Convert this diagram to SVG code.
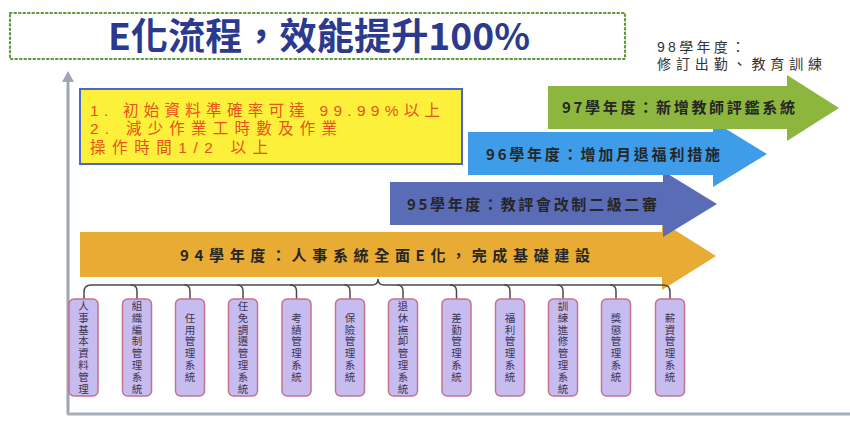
<svg xmlns="http://www.w3.org/2000/svg" width="850" height="423" viewBox="0 0 850 423">
<defs>
<style>
.cjk{font-family:"Noto Sans CJK TC","Noto Sans CJK SC",sans-serif;}
.lat{font-family:"Liberation Sans","Noto Sans CJK TC","Noto Sans CJK SC",sans-serif;}
.node rect{fill:#c7bcef;stroke:#c8708e;stroke-width:1.5;}
.node text{font-family:"Noto Sans CJK TC","Noto Sans CJK SC",sans-serif;font-size:10.5px;fill:#3e3452;text-anchor:middle;writing-mode:vertical-rl;letter-spacing:1.3px;}
.arrtxt{font-family:"Noto Sans CJK TC","Noto Sans CJK SC",sans-serif;font-size:15px;font-weight:bold;fill:#262626;}
.ytxt{font-family:"Liberation Sans","Noto Sans CJK TC","Noto Sans CJK SC",sans-serif;font-size:15.5px;fill:#e6521c;}
.conn{fill:none;stroke:#4a4a4a;stroke-width:1.5;}
</style>
</defs>
<rect width="850" height="423" fill="#ffffff"/>

<g id="title">
<rect x="10" y="13" width="615" height="46" fill="none" stroke="#5c9a3a" stroke-width="2.2" stroke-dasharray="1.5 3" stroke-linecap="round"/>
<text x="108" y="50" class="cjk" font-size="37" font-weight="bold" fill="#2b3a8e" textLength="422" lengthAdjust="spacingAndGlyphs">E化流程，效能提升100%</text>
</g>

<g id="note98">
<text x="657" y="52" class="lat" font-size="14" fill="#333" textLength="88" lengthAdjust="spacing">98學年度：</text>
<text x="657" y="69" class="lat" font-size="14" fill="#333" textLength="165" lengthAdjust="spacing">修訂出勤、教育訓練</text>
</g>

<g id="axes">
<line x1="68" y1="80" x2="68" y2="414" stroke="#9ea6b2" stroke-width="3"/>
<polygon points="62,82 68,71 74,82" fill="#9ea6b2"/>
<line x1="67" y1="414" x2="850" y2="414" stroke="#a8b0ba" stroke-width="3"/>
</g>

<g id="goals">
<rect x="80" y="89" width="382" height="75" fill="#fcf03a" stroke="#4a68cc" stroke-width="2"/>
<text x="90" y="116" class="ytxt" textLength="350" lengthAdjust="spacing">1. 初始資料準確率可達 99.99%以上</text>
<text x="90" y="134" class="ytxt" textLength="247" lengthAdjust="spacing">2. 減少作業工時數及作業</text>
<text x="90" y="153" class="ytxt" textLength="178" lengthAdjust="spacing">操作時間1/2 以上</text>
</g>

<g id="arrow94">
<polygon points="80,232 662,232 662,222 716,256 662,290 662,277 80,277" fill="#e8ab33"/>
<text x="180" y="261" class="arrtxt" font-size="17" textLength="410" lengthAdjust="spacing">94學年度：人事系統全面E化，完成基礎建設</text>
</g>

<g id="arrow95">
<polygon points="390,182 663,182 663,171 717,204 663,237 663,225 390,225" fill="#5a6cb6"/>
<text x="407" y="210" class="arrtxt" textLength="250" lengthAdjust="spacing">95學年度：教評會改制二級二審</text>
</g>

<g id="arrow96">
<polygon points="468,132 713,132 713,121 767,154 713,187 713,175 468,175" fill="#3e9ce8"/>
<text x="486" y="160" class="arrtxt" textLength="234" lengthAdjust="spacing">96學年度：增加月退福利措施</text>
</g>

<g id="arrow97">
<polygon points="548,86 787,86 787,75 839,108 787,141 787,129 548,129" fill="#8cb63e"/>
<text x="562" y="113" class="arrtxt" textLength="233" lengthAdjust="spacing">97學年度：新增教師評鑑系統</text>
</g>

<g id="connectors">
<path class="conn" d="M84,299 L84,292 Q84,285 91,285 L372,285 Q378,285 378,279 Q378,285 384,285 L663,285 Q670,285 670,292 L670,299"/>
<path class="conn" d="M131,285 Q137,285 137,291 L137,299"/>
<path class="conn" d="M184,285 Q190,285 190,291 L190,299"/>
<path class="conn" d="M237,285 Q243,285 243,291 L243,299"/>
<path class="conn" d="M290,285 Q296.5,285 296.5,291 L296.5,299"/>
<path class="conn" d="M344,285 Q350,285 350,291 L350,299"/>
<path class="conn" d="M397,285 Q403,285 403,291 L403,299"/>
<path class="conn" d="M450,285 Q456.5,285 456.5,291 L456.5,299"/>
<path class="conn" d="M504,285 Q510,285 510,291 L510,299"/>
<path class="conn" d="M557,285 Q563,285 563,291 L563,299"/>
<path class="conn" d="M610,285 Q616,285 616,291 L616,299"/>
</g>

<g id="n1" class="node"><rect x="69" y="299" width="29" height="97" rx="5"/><text x="83.5" y="348">人事基本資料管理</text></g>
<g id="n2" class="node"><rect x="122.5" y="299" width="29" height="97" rx="5"/><text x="137" y="348">組織編制管理系統</text></g>
<g id="n3" class="node"><rect x="175.5" y="299" width="29" height="97" rx="5"/><text x="190" y="348">任用管理系統</text></g>
<g id="n4" class="node"><rect x="228.5" y="299" width="29" height="97" rx="5"/><text x="243" y="348">任免調遷管理系統</text></g>
<g id="n5" class="node"><rect x="282" y="299" width="29" height="97" rx="5"/><text x="296.5" y="348">考績管理系統</text></g>
<g id="n6" class="node"><rect x="335.5" y="299" width="29" height="97" rx="5"/><text x="350" y="348">保險管理系統</text></g>
<g id="n7" class="node"><rect x="388.5" y="299" width="29" height="97" rx="5"/><text x="403" y="348">退休撫卹管理系統</text></g>
<g id="n8" class="node"><rect x="442" y="299" width="29" height="97" rx="5"/><text x="456.5" y="348">差勤管理系統</text></g>
<g id="n9" class="node"><rect x="495.5" y="299" width="29" height="97" rx="5"/><text x="510" y="348">福利管理系統</text></g>
<g id="n10" class="node"><rect x="548.5" y="299" width="29" height="97" rx="5"/><text x="563" y="348">訓練進修管理系統</text></g>
<g id="n11" class="node"><rect x="601.5" y="299" width="29" height="97" rx="5"/><text x="616" y="348">獎懲管理系統</text></g>
<g id="n12" class="node"><rect x="655.5" y="299" width="29" height="97" rx="5"/><text x="670" y="348">薪資管理系統</text></g>
</svg>
